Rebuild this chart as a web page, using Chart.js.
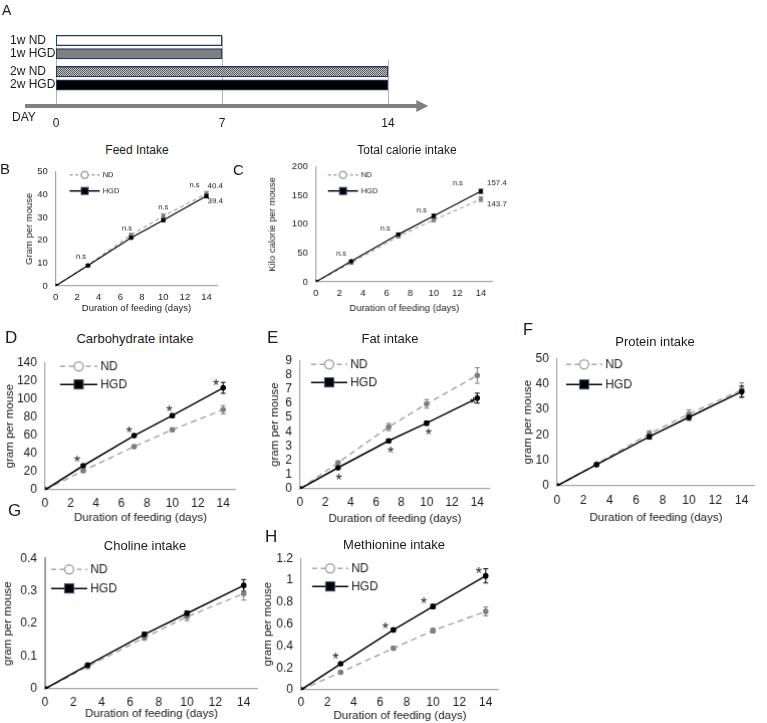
<!DOCTYPE html>
<html>
<head>
<meta charset="utf-8">
<script src="https://cdn.jsdelivr.net/npm/chart.js@4.4.0/dist/chart.umd.min.js"></script>
<style>
    body { margin: 0; background: #fff; width: 767px; height: 723px; position: relative; overflow: hidden;
           font-family: "Liberation Sans", Arial, Helvetica, sans-serif; color: #1a1a1a; }
    .cv { position: absolute; }
    .txt { position: absolute; white-space: nowrap; line-height: 1; }
</style>
</head>
<body>
<script>
const FONT = '"Liberation Sans", Arial, Helvetica, sans-serif';

// ---- panel A : feeding schedule ----
const A_ROWS = ["1w ND", "1w HGD", "2w ND", "2w HGD"];
const A_ROW_POS = [1, 2, 3.35, 4.35];
const A_END = [7, 7, 14, 14];
const A_DAY_TICKS = [0, 7, 14];
const A_LINE_TOP = [0.7, 0.7, 2.5];

// ---- panels B-H : cumulative intake ----
const DAYS = [0, 3, 7, 10, 14];
const X_TICKS = [0, 2, 4, 6, 8, 10, 12, 14];

const feedND = [0, 9.1, 22.3, 30.6, 40.4];
const feedHGD = [0, 8.9, 21.1, 28.8, 39.4];
const feedErrND = [0, 0.4, 0.6, 0.9, 1.0];
const feedErrHGD = [0, 0.4, 0.5, 0.6, 0.8];
const feedTicks = [0, 10, 20, 30, 40, 50];

const calND = [0, 33, 79, 107.5, 143.7];
const calHGD = [0, 36, 82.5, 114.5, 157.4];
const calErrND = [0, 2, 2.5, 3, 4];
const calErrHGD = [0, 1.5, 2, 3, 3.5];
const calTicks = [0, 50, 100, 150, 200];

const carbND = [0, 21, 47.5, 66, 88];
const carbHGD = [0, 26.5, 59.5, 81.5, 112];
const carbErrND = [0, 1.5, 1.5, 2, 4.5];
const carbErrHGD = [0, 1.5, 1.5, 2, 6];
const carbTicks = [0, 20, 40, 60, 80, 100, 120, 140];

const fatND = [0, 1.83, 4.33, 5.95, 7.94];
const fatHGD = [0, 1.48, 3.36, 4.6, 6.35];
const fatErrND = [0, 0.1, 0.25, 0.3, 0.55];
const fatErrHGD = [0, 0.08, 0.12, 0.15, 0.35];
const fatTicks = [0, 1, 2, 3, 4, 5, 6, 7, 8, 9];

const protND = [0, 8.6, 20.4, 28.2, 37.6];
const protHGD = [0, 8.3, 19.3, 26.9, 36.9];
const protErrND = [0, 0.6, 1.2, 1.6, 2.8];
const protErrHGD = [0, 0.5, 1, 1.2, 2.2];
const protTicks = [0, 10, 20, 30, 40, 50];

const cholND = [0, 0.068, 0.157, 0.221, 0.292];
const cholHGD = [0, 0.073, 0.167, 0.231, 0.317];
const cholErrND = [0, 0.004, 0.008, 0.012, 0.02];
const cholErrHGD = [0, 0.004, 0.006, 0.008, 0.018];
const cholTicks = [0, 0.1, 0.2, 0.3, 0.4];

const metND = [0, 0.16, 0.38, 0.54, 0.715];
const metHGD = [0, 0.238, 0.547, 0.76, 1.04];
const metErrND = [0, 0.01, 0.015, 0.02, 0.04];
const metErrHGD = [0, 0.01, 0.015, 0.02, 0.065];
const metTicks = [0, 0.2, 0.4, 0.6, 0.8, 1, 1.2];

const NS_DAYS = [3, 7, 10, 14];

function addText(txt, x, y, size, center) {
    const d = document.createElement("div");
    d.className = "txt";
    d.textContent = txt;
    d.style.left = x + "px";
    d.style.top = y + "px";
    d.style.fontSize = size + "px";
    d.style.transform = center ? "translate(-50%,-50%)" : "translateY(-50%)";
    document.body.appendChild(d);
}

function addCanvas(left, top, w, h) {
    const wrap = document.createElement("div");
    wrap.className = "cv";
    wrap.style.left = left + "px";
    wrap.style.top = top + "px";
    wrap.style.width = w + "px";
    wrap.style.height = h + "px";
    const cv = document.createElement("canvas");
    wrap.appendChild(cv);
    document.body.appendChild(wrap);
    return cv;
}

// checker pattern for the "2w ND" bar
function checker() {
    const c = document.createElement("canvas");
    c.width = 2; c.height = 2;
    const g = c.getContext("2d");
    g.fillStyle = "#c8c8c8"; g.fillRect(0, 0, 2, 2);
    g.fillStyle = "#555"; g.fillRect(0, 0, 1, 1); g.fillRect(1, 1, 1, 1);
    return g.createPattern(c, "repeat");
}

// ---------------- Panel A ----------------
function drawSchedule() {
    const left = 10, top = 0, right = 440, height = 135;
    const plotL = 56, plotR = 388, plotT = 24.35, plotB = 100.45;
    const cv = addCanvas(left, top, right - left, height);
    const fill = ["#ffffff", "#808080", checker(), "#000000"];

    const schedulePlugin = {
        id: "schedule",
        beforeDatasetsDraw(chart) {
            const { ctx, scales: { x, y }, chartArea } = chart;
            ctx.save();
            ctx.strokeStyle = "#b3b3b3";
            ctx.lineWidth = 1;
            A_DAY_TICKS.forEach((d, i) => {
                const px = Math.round(x.getPixelForValue(d)) + 0.5;
                ctx.beginPath();
                ctx.moveTo(px, y.getPixelForValue(A_LINE_TOP[i]));
                ctx.lineTo(px, chartArea.bottom + 5);
                ctx.stroke();
            });
            ctx.restore();
        },
        afterDraw(chart) {
            const { ctx, scales: { x }, chartArea } = chart;
            const ay = chartArea.bottom + 5.5;
            const tip = x.getPixelForValue(15.7);
            ctx.save();
            ctx.strokeStyle = "#808080";
            ctx.fillStyle = "#808080";
            ctx.lineWidth = 4;
            ctx.beginPath();
            ctx.moveTo(chartArea.left - 31, ay);
            ctx.lineTo(tip - 10, ay);
            ctx.stroke();
            ctx.beginPath();
            ctx.moveTo(tip - 12, ay - 6);
            ctx.lineTo(tip, ay);
            ctx.lineTo(tip - 12, ay + 6);
            ctx.closePath();
            ctx.fill();
            ctx.restore();
        }
    };

    new Chart(cv, {
        type: "bar",
        data: {
            datasets: [{
                data: A_ROWS.map((_, i) => ({ x: [0, A_END[i]], y: A_ROW_POS[i] })),
                backgroundColor: fill,
                borderColor: "#1f3a68",
                borderWidth: 1.3,
                borderSkipped: false,
                barThickness: 10.5,
            }],
        },
        options: {
            indexAxis: "y",
            responsive: true,
            maintainAspectRatio: false,
            animation: false,
            layout: { padding: { left: 0, top: plotT - top, right: right - plotR, bottom: 0 } },
            plugins: { legend: { display: false }, tooltip: { enabled: false } },
            scales: {
                x: {
                    type: "linear", min: 0, max: 14,
                    afterBuildTicks: s => { s.ticks = A_DAY_TICKS.map(v => ({ value: v })); },
                    afterFit: s => { s.height = height - plotB; },
                    grid: { display: false, drawTicks: false },
                    border: { display: false },
                    ticks: { font: { family: FONT, size: 12, lineHeight: 1.2 }, color: "#1a1a1a", padding: 16.35, autoSkip: false },
                },
                y: {
                    type: "linear", min: 0.5, max: 4.8, reverse: true,
                    afterBuildTicks: s => { s.ticks = A_ROW_POS.map(v => ({ value: v })); },
                    afterFit: s => { s.width = plotL - left; },
                    grid: { display: false, drawTicks: false },
                    border: { display: false },
                    ticks: {
                        crossAlign: "far", autoSkip: false,
                        font: { family: FONT, size: 12 }, color: "#1a1a1a",
                        callback: v => A_ROWS[A_ROW_POS.indexOf(v)],
                    },
                },
            },
        },
        plugins: [schedulePlugin],
    });
}

// ---------------- Panels B-H ----------------
function drawIntake(p) {
    const tickSize = p.small ? 9.5 : 12;
    const axisSize = p.small ? 9.5 : 11.5;
    const lh = axisSize * 1.2;
    const left = p.yTitleX - lh / 2;
    const top = p.rect.t - 10;
    const bottom = p.xTitleY + lh / 2;
    const right = p.rect.r + (p.padR || 12);
    const cv = addCanvas(left, top, right - left, bottom - top);
    const xPad = p.xTickY - p.rect.b - tickSize * 1.2 / 2;
    const sets = [
        { vals: p.nd, err: p.ndErr, line: "#a6a6a6", pt: "#7f7f7f", dash: p.small ? [4, 3] : [6, 4] },
        { vals: p.hgd, err: p.hgdErr, line: "#000000", pt: "#000000", dash: [] },
    ];

    const errPlugin = {
        id: "errBars",
        beforeDatasetsDraw(chart) {
            const { ctx, scales: { x, y } } = chart;
            ctx.save();
            ctx.lineWidth = 1;
            sets.forEach(s => {
                ctx.strokeStyle = s.pt;
                DAYS.forEach((d, i) => {
                    const e = s.err[i];
                    if (!e) return;
                    const px = x.getPixelForValue(d);
                    const t = y.getPixelForValue(s.vals[i] + e);
                    const b = y.getPixelForValue(s.vals[i] - e);
                    ctx.beginPath();
                    ctx.moveTo(px, t); ctx.lineTo(px, b);
                    ctx.moveTo(px - 2.5, t); ctx.lineTo(px + 2.5, t);
                    ctx.moveTo(px - 2.5, b); ctx.lineTo(px + 2.5, b);
                    ctx.stroke();
                });
            });
            ctx.restore();
        }
    };

    const legendPlugin = {
        id: "legendBox",
        afterDraw(chart) {
            const { ctx, chartArea } = chart;
            const L = p.legend;
            const x0 = chartArea.left + L.dx;
            const fs = p.small ? 7.5 : 12;
            const r = p.small ? 3.5 : 4.5;
            const sq = p.small ? 7 : 9;
            ctx.save();
            ctx.font = fs + "px " + FONT;
            ctx.textBaseline = "middle";
            ctx.fillStyle = "#1a1a1a";
            // ND row
            let yy = chartArea.top + L.rows[0];
            ctx.strokeStyle = "#a6a6a6";
            ctx.lineWidth = 1.5;
            ctx.setLineDash(p.small ? [3, 2.5] : [5, 3.5]);
            ctx.beginPath(); ctx.moveTo(x0, yy); ctx.lineTo(x0 + L.len, yy); ctx.stroke();
            ctx.setLineDash([]);
            ctx.fillStyle = "#ffffff";
            ctx.beginPath(); ctx.arc(x0 + L.len / 2, yy, r, 0, Math.PI * 2); ctx.fill(); ctx.stroke();
            ctx.fillStyle = "#1a1a1a";
            ctx.fillText("ND", x0 + L.len + 3, yy);
            // HGD row
            yy = chartArea.top + L.rows[1];
            ctx.strokeStyle = "#000000";
            ctx.beginPath(); ctx.moveTo(x0, yy); ctx.lineTo(x0 + L.len, yy); ctx.stroke();
            ctx.fillStyle = "#000000";
            ctx.fillRect(x0 + L.len / 2 - sq / 2, yy - sq / 2, sq, sq);
            ctx.strokeStyle = "#2f4b7c";
            ctx.lineWidth = 1;
            ctx.strokeRect(x0 + L.len / 2 - sq / 2, yy - sq / 2, sq, sq);
            ctx.fillStyle = "#1a1a1a";
            ctx.fillText("HGD", x0 + L.len + 3, yy);
            ctx.restore();
        }
    };

    const notePlugin = {
        id: "notes",
        afterDatasetsDraw(chart) {
            const { ctx, scales: { x, y } } = chart;
            ctx.save();
            ctx.fillStyle = "#1a1a1a";
            (p.notes || []).forEach(n => {
                const vals = sets[n.ds].vals;
                ctx.font = n.size + "px " + FONT;
                ctx.textAlign = n.align || "center";
                ctx.textBaseline = n.star ? "alphabetic" : "middle";
                n.days.forEach((d, k) => {
                    const i = DAYS.indexOf(d);
                    const px = x.getPixelForValue(d) + n.offs[k][0];
                    let py = y.getPixelForValue(vals[i]) + n.offs[k][1];
                    if (n.star) py += n.size * 0.58;
                    ctx.fillText(n.text, px, py);
                });
            });
            ctx.restore();
        }
    };

    new Chart(cv, {
        type: "line",
        data: {
            datasets: sets.map((s, k) => ({
                label: k ? "HGD" : "ND",
                data: DAYS.map((d, i) => ({ x: d, y: s.vals[i] })),
                borderColor: s.line,
                borderDash: s.dash,
                borderWidth: p.small ? 1.2 : 1.5,
                pointRadius: p.small ? 2.2 : 2.8,
                pointBackgroundColor: s.pt,
                pointBorderColor: s.pt,
                pointBorderWidth: 0,
                tension: 0,
                order: 1 - k,
            })),
        },
        options: {
            responsive: true,
            maintainAspectRatio: false,
            animation: false,
            layout: { padding: { left: 0, top: 10, right: right - p.rect.r, bottom: 0 } },
            plugins: { legend: { display: false }, tooltip: { enabled: false } },
            scales: {
                x: {
                    type: "linear", min: 0, max: 15,
                    afterBuildTicks: s => { s.ticks = X_TICKS.map(v => ({ value: v })); },
                    afterFit: s => { s.height = bottom - p.rect.b; },
                    grid: { display: false, drawTicks: false },
                    border: { display: true, color: "#a6a6a6", width: 1.2 },
                    ticks: { font: { family: FONT, size: tickSize, lineHeight: 1.2 }, color: "#1a1a1a",
                             padding: xPad, maxRotation: 0, autoSkip: false },
                    title: { display: true, text: "Duration of feeding (days)", color: "#1a1a1a",
                             font: { family: FONT, size: axisSize, lineHeight: 1.2 }, padding: 0 },
                },
                y: {
                    type: "linear", min: 0, max: p.yTicks[p.yTicks.length - 1],
                    afterBuildTicks: s => { s.ticks = p.yTicks.map(v => ({ value: v })); },
                    afterFit: s => { s.width = p.rect.l - left; },
                    grid: { display: false, drawTicks: false },
                    border: { display: true, color: p.yAxisColor || "#a6a6a6", width: p.yAxisWidth || 1.2 },
                    ticks: { font: { family: FONT, size: tickSize }, color: "#1a1a1a", padding: 8,
                             autoSkip: false, callback: v => String(v) },
                    title: { display: true, text: p.yTitle, color: "#1a1a1a",
                             font: { family: FONT, size: axisSize, lineHeight: 1.2 }, padding: 0 },
                },
            },
        },
        plugins: [errPlugin, legendPlugin, notePlugin],
    });
}

drawSchedule();
addText("A", 2, 10, 14, false);
addText("DAY", 12, 117, 12, false);

drawIntake({
    small: true, nd: feedND, hgd: feedHGD, ndErr: feedErrND, hgdErr: feedErrHGD, yTicks: feedTicks,
    yTitle: "Gram per mouse", rect: { l: 56, t: 168, r: 217.5, b: 285 },
    yTitleX: 30, xTitleY: 307, xTickY: 296, padR: 18,
    legend: { dx: 14, rows: [3, 19], len: 30 },
    notes: [
        { text: "n.s", ds: 0, days: NS_DAYS, size: 7.5, offs: [[-7, -8], [-4, -7], [0, -9], [-12, -9]] },
        { text: "40.4", ds: 0, days: [14], size: 8, align: "left", offs: [[1, -8]] },
        { text: "39.4", ds: 1, days: [14], size: 8, align: "left", offs: [[1, 5]] },
    ],
});
drawIntake({
    small: true, nd: calND, hgd: calHGD, ndErr: calErrND, hgdErr: calErrHGD, yTicks: calTicks,
    yTitle: "Kilo calorie per mouse", rect: { l: 316, t: 163, r: 492, b: 281 },
    yTitleX: 273, xTitleY: 307, xTickY: 292, padR: 30,
    legend: { dx: 12, rows: [8, 24], len: 30 },
    notes: [
        { text: "n.s", ds: 1, days: NS_DAYS, size: 7.5, offs: [[-10, -7], [-13, -6], [-12, -6], [-23, -8]] },
        { text: "157.4", ds: 1, days: [14], size: 8, align: "left", offs: [[6, -8]] },
        { text: "143.7", ds: 0, days: [14], size: 8, align: "left", offs: [[6, 5]] },
    ],
});
drawIntake({
    nd: carbND, hgd: carbHGD, ndErr: carbErrND, hgdErr: carbErrHGD, yTicks: carbTicks,
    yTitle: "gram per mouse", rect: { l: 45, t: 357, r: 235, b: 489 },
    yTitleX: 10, xTitleY: 517, xTickY: 503,
    legend: { dx: 15, rows: [4, 22], len: 37 },
    notes: [{ text: "*", ds: 1, days: NS_DAYS, size: 16, star: true, offs: [[-6, -7], [-5, -6], [-3, -7], [-7, -6]] }],
});
drawIntake({
    nd: fatND, hgd: fatHGD, ndErr: fatErrND, hgdErr: fatErrHGD, yTicks: fatTicks,
    yTitle: "gram per mouse", rect: { l: 300, t: 355, r: 489, b: 488 },
    yTitleX: 275, xTitleY: 518, xTickY: 502,
    legend: { dx: 11, rows: [4, 22], len: 36 },
    notes: [{ text: "*", ds: 1, days: NS_DAYS, size: 16, star: true, offs: [[1, 9], [2, 8], [2, 8], [-4, 2]] }],
});
drawIntake({
    nd: protND, hgd: protHGD, ndErr: protErrND, hgdErr: protErrHGD, yTicks: protTicks,
    yTitle: "gram per mouse", rect: { l: 557, t: 353, r: 754, b: 485 },
    yTitleX: 528, xTitleY: 517, xTickY: 500, padR: 8,
    legend: { dx: 9, rows: [6, 26], len: 36 },
});
drawIntake({
    nd: cholND, hgd: cholHGD, ndErr: cholErrND, hgdErr: cholErrHGD, yTicks: cholTicks,
    yTitle: "gram per mouse", rect: { l: 45, t: 553, r: 257, b: 688 },
    yTitleX: 8, xTitleY: 713, xTickY: 702, yAxisColor: "#a0a0a0", yAxisWidth: 2,
    legend: { dx: 6, rows: [11, 30], len: 36 },
});
drawIntake({
    nd: metND, hgd: metHGD, ndErr: metErrND, hgdErr: metErrHGD, yTicks: metTicks,
    yTitle: "gram per mouse", rect: { l: 301, t: 553, r: 498, b: 689 },
    yTitleX: 268, xTitleY: 715, xTickY: 702,
    legend: { dx: 11, rows: [10, 28], len: 36 },
    notes: [{ text: "*", ds: 1, days: NS_DAYS, size: 16, star: true, offs: [[-5, -8], [-8, -5], [-9, -6], [-7, -6]] }],
});

// panel letters and chart titles
addText("B", 0, 168, 15, false);
addText("C", 233, 169, 15, false);
addText("D", 5, 337, 17, false);
addText("E", 267, 337, 17, false);
addText("F", 523, 330, 16, false);
addText("G", 8, 510, 17, false);
addText("H", 265, 536, 17, false);
addText("Feed Intake", 137, 150, 12, true);
addText("Total calorie intake", 407, 150, 12, true);
addText("Carbohydrate intake", 135, 338, 13, true);
addText("Fat intake", 390, 338, 13, true);
addText("Protein intake", 655, 341, 13, true);
addText("Choline intake", 145, 545, 13, true);
addText("Methionine intake", 394, 544, 13, true);
</script>
</body>
</html>
